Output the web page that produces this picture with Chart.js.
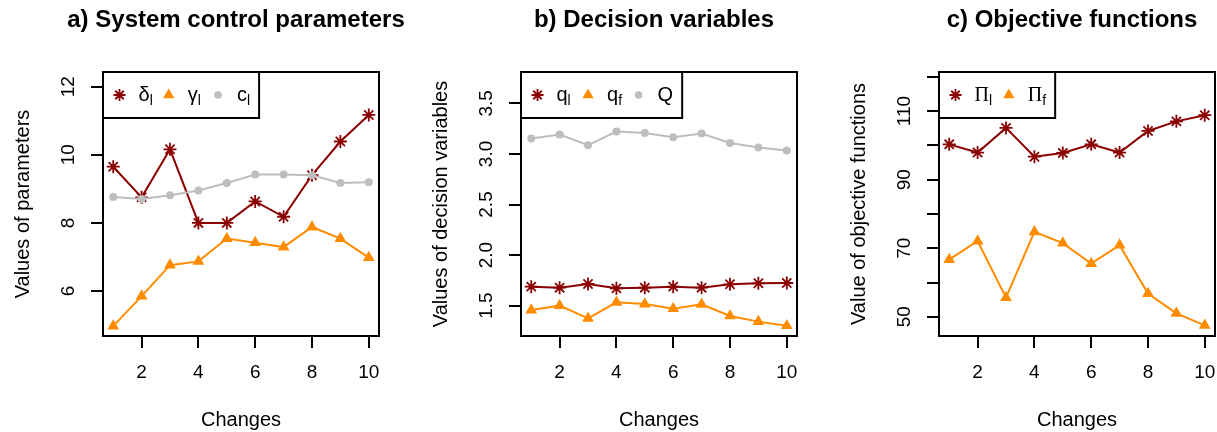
<!DOCTYPE html>
<html>
<head>
<meta charset="utf-8">
<script src="https://cdn.jsdelivr.net/npm/chart.js@4.4.0/dist/chart.umd.min.js"></script>
<style>
    html, body { margin: 0; padding: 0; background: #fff; overflow: hidden; }
    #wrap { position: relative; width: 1217px; height: 432px; overflow: hidden; }
    canvas { position: absolute; top: 0; }
</style>
</head>
<body>
<div id="wrap">
    <canvas id="chartA" width="480" height="432" style="left:1px"></canvas>
    <canvas id="chartB" width="480" height="432" style="left:419px"></canvas>
    <canvas id="chartC" width="480" height="432" style="left:837px"></canvas>
</div>
<script>
const sansFamily = '"Liberation Sans", Arial, sans-serif';
const serifFamily = '"Liberation Serif", "Times New Roman", serif';
Chart.defaults.font.family = sansFamily;
Chart.defaults.color = '#000';

// shared x axis
const changes = [1, 2, 3, 4, 5, 6, 7, 8, 9, 10];
const xTicks = [2, 4, 6, 8, 10];

// a) system control parameters
const deltaL = [9.65, 8.75, 10.16, 8.00, 8.00, 8.63, 8.18, 9.40, 10.39, 11.17];
const gammaL = [4.97, 5.85, 6.76, 6.87, 7.54, 7.42, 7.29, 7.88, 7.54, 6.98];
const costL = [8.76, 8.70, 8.81, 8.95, 9.17, 9.42, 9.42, 9.40, 9.17, 9.19];
const yTicksA = [6, 8, 10, 12];
const yLabelsA = ['6', '8', '10', '12'];

// b) decision variables
const qLeader = [1.688, 1.678, 1.714, 1.671, 1.678, 1.688, 1.678, 1.711, 1.721, 1.724];
const qFollower = [1.457, 1.500, 1.375, 1.533, 1.516, 1.470, 1.513, 1.398, 1.342, 1.302];
const qTotal = [3.152, 3.191, 3.086, 3.221, 3.208, 3.165, 3.201, 3.109, 3.063, 3.033];
const yTicksB = [1.5, 2.0, 2.5, 3.0, 3.5];
const yLabelsB = ['1.5', '2.0', '2.5', '3.0', '3.5'];

// c) objective functions
const profitL = [100.3, 97.9, 105.1, 96.7, 97.8, 100.3, 97.9, 104.2, 107.0, 108.8];
const profitF = [66.7, 72.1, 55.6, 74.8, 71.5, 65.5, 70.9, 56.8, 51.0, 47.5];
const yTicksC = [50, 60, 70, 80, 90, 100, 110, 120];
const yLabelsC = ['50', '', '70', '', '90', '', '110', ''];

const colors = {
    red: '#8B0000',
    orange: '#FF8C00',
    grey: '#BEBEBE'
};

const markers = {
    star: { color: colors.red, pointStyle: 'star', radius: 6.5, border: 1.8, legendRadius: 6 },
    triangle: { color: colors.orange, pointStyle: 'triangle', radius: 6.8, border: 0, legendRadius: 6.5 },
    dot: { color: colors.grey, pointStyle: 'circle', radius: 4, border: 0, legendRadius: 3.8 }
};

function series(label, values, kind, order) {
    const m = markers[kind];
    return {
        label: label,
        data: values.map((v, i) => ({ x: changes[i], y: v })),
        order: order,
        borderColor: m.color,
        backgroundColor: m.color,
        borderWidth: 2,
        pointStyle: m.pointStyle,
        pointRadius: m.radius,
        pointHoverRadius: m.radius,
        pointBorderWidth: m.border,
        pointBackgroundColor: m.color,
        pointBorderColor: m.color,
        tension: 0
    };
}

// R style frame: title over the plot region, box, rotated y tick labels, legend with subscripts
const rFrame = {
    id: 'rFrame',
    afterDraw(chart, args, opts) {
        const { ctx, chartArea: a } = chart;
        const yScale = chart.scales.y;
        ctx.save();

        ctx.fillStyle = '#000';
        ctx.font = 'bold 24px ' + sansFamily;
        ctx.textAlign = 'center';
        ctx.textBaseline = 'middle';
        ctx.fillText(opts.title, (a.left + a.right) / 2 - 5, 20);

        ctx.strokeStyle = '#000';
        ctx.lineWidth = 2;
        ctx.strokeRect(a.left, a.top, a.right - a.left, a.bottom - a.top);

        ctx.font = '19px ' + sansFamily;
        yScale.ticks.forEach(t => {
            if (!t.label) return;
            ctx.save();
            ctx.translate(a.left - 34.4, yScale.getPixelForValue(t.value));
            ctx.rotate(-Math.PI / 2);
            ctx.fillText(t.label, 0, 0);
            ctx.restore();
        });

        // legend
        const baseFont = '20px ' + (opts.serif ? serifFamily : sansFamily);
        const subFont = '14px ' + sansFamily;
        const widths = opts.entries.map(e => {
            ctx.font = baseFont;
            let w = ctx.measureText(e.base).width;
            ctx.font = subFont;
            if (e.sub) w += ctx.measureText(e.sub).width;
            return w;
        });
        const colW = Math.max(...widths) + 35;
        const n = opts.entries.length;
        const boxW = 35.5 + (n - 1) * colW + widths[n - 1] + 9;
        ctx.strokeRect(a.left, a.top, boxW, 46);

        const rowY = a.top + 23;
        const baseY = a.top + 28.5;
        opts.entries.forEach((e, i) => {
            const m = markers[e.kind];
            ctx.fillStyle = m.color;
            ctx.strokeStyle = m.color;
            ctx.lineWidth = m.border;
            Chart.helpers.drawPoint(ctx, {
                pointStyle: m.pointStyle,
                radius: m.legendRadius,
                rotation: 0,
                borderWidth: m.border
            }, a.left + 16.5 + i * colW, rowY);

            const tx = a.left + 35.5 + i * colW;
            ctx.fillStyle = '#000';
            ctx.textAlign = 'left';
            ctx.textBaseline = 'alphabetic';
            ctx.font = baseFont;
            ctx.fillText(e.base, tx, baseY);
            const bw = ctx.measureText(e.base).width;
            if (e.sub) {
                ctx.font = subFont;
                ctx.fillText(e.sub, tx + bw, baseY + 4);
            }
        });
        ctx.restore();
    }
};

function createPanel(canvasId, p) {
    const ctx = document.getElementById(canvasId).getContext('2d');
    const tickGrid = {
        drawOnChartArea: false,
        drawTicks: true,
        tickLength: 12,
        color: '#000',
        lineWidth: 2
    };

    return new Chart(ctx, {
        type: 'line',
        data: { datasets: p.datasets },
        plugins: [rFrame],
        options: {
            responsive: false,
            animation: false,
            events: [],
            layout: { padding: { left: 0, right: 102, top: 72, bottom: 0 } },
            plugins: {
                legend: { display: false },
                tooltip: { enabled: false },
                title: { display: false },
                rFrame: { title: p.title, entries: p.legend, serif: p.serif }
            },
            scales: {
                x: {
                    type: 'linear',
                    min: 0.64,
                    max: 10.36,
                    afterBuildTicks: s => { s.ticks = xTicks.map(v => ({ value: v })); },
                    afterFit: s => { s.height = 96; },
                    grid: tickGrid,
                    border: { display: false },
                    ticks: {
                        font: { size: 19 },
                        padding: 13,
                        maxRotation: 0,
                        autoSkip: false,
                        callback: v => String(v)
                    },
                    title: {
                        display: true,
                        text: 'Changes',
                        font: { size: 20 },
                        padding: { top: 0, bottom: 0 }
                    }
                },
                y: {
                    type: 'linear',
                    min: p.yMin,
                    max: p.yMax,
                    afterBuildTicks: s => { s.ticks = p.yTicks.map(v => ({ value: v })); },
                    afterFit: s => { s.width = 102; },
                    grid: tickGrid,
                    border: { display: false },
                    ticks: {
                        display: false,
                        callback: (v, i) => p.yLabels[i]
                    },
                    title: {
                        display: true,
                        text: p.yTitle,
                        font: { size: 20 },
                        padding: { top: 10, bottom: 0 }
                    }
                }
            }
        }
    });
}

createPanel('chartA', {
    title: 'a) System control parameters',
    yTitle: 'Values of parameters',
    yMin: 4.68, yMax: 12.43,
    yTicks: yTicksA, yLabels: yLabelsA,
    datasets: [
        series('δl', deltaL, 'star', 3),
        series('γl', gammaL, 'triangle', 2),
        series('cl', costL, 'dot', 1)
    ],
    legend: [
        { base: 'δ', sub: 'l', kind: 'star' },
        { base: 'γ', sub: 'l', kind: 'triangle' },
        { base: 'c', sub: 'l', kind: 'dot' }
    ]
});

createPanel('chartB', {
    title: 'b) Decision variables',
    yTitle: 'Values of decision variables',
    yMin: 1.20, yMax: 3.81,
    yTicks: yTicksB, yLabels: yLabelsB,
    datasets: [
        series('ql', qLeader, 'star', 3),
        series('qf', qFollower, 'triangle', 2),
        series('Q', qTotal, 'dot', 1)
    ],
    legend: [
        { base: 'q', sub: 'l', kind: 'star' },
        { base: 'q', sub: 'f', kind: 'triangle' },
        { base: 'Q', sub: '', kind: 'dot' }
    ]
});

createPanel('chartC', {
    title: 'c) Objective functions',
    yTitle: 'Value of objective functions',
    yMin: 44.4, yMax: 121.4,
    yTicks: yTicksC, yLabels: yLabelsC,
    serif: true,
    datasets: [
        series('Πl', profitL, 'star', 2),
        series('Πf', profitF, 'triangle', 1)
    ],
    legend: [
        { base: 'Π', sub: 'l', kind: 'star' },
        { base: 'Π', sub: 'f', kind: 'triangle' }
    ]
});
</script>
</body>
</html>
